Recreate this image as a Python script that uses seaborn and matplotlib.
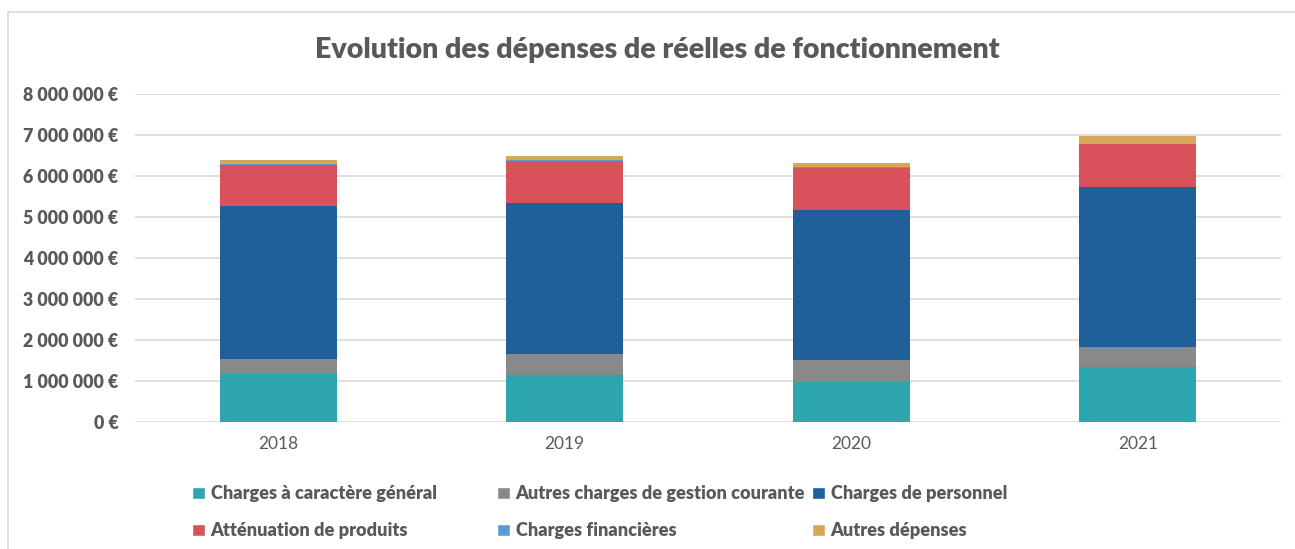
import numpy as np
import pandas as pd
import seaborn as sns
import matplotlib.pyplot as plt
import matplotlib.ticker as ticker
from matplotlib.patches import Patch, Rectangle

years = ["2018", "2019", "2020", "2021"]
series = [
    "Charges à caractère général",
    "Autres charges de gestion courante",
    "Charges de personnel",
    "Atténuation de produits",
    "Charges financières",
    "Autres dépenses",
]
charges_generales = [1170000, 1150000, 980000, 1330000]
autres_charges = [370000, 510000, 530000, 500000]
charges_personnel = [3740000, 3690000, 3670000, 3890000]
attenuation = [990000, 1020000, 1020000, 1050000]
charges_financieres = [20000, 20000, 20000, 10000]
autres_depenses = [90000, 110000, 90000, 200000]
colors = ["#2CA5AE", "#898989", "#1F5F9A", "#D9525B", "#5B9BD5", "#D6A659"]


def main():
    values = [charges_generales, autres_charges, charges_personnel,
              attenuation, charges_financieres, autres_depenses]
    cum = np.cumsum(np.array(values), axis=0)
    df = pd.DataFrame({"year": years})
    for name, c in zip(series, cum):
        df[name] = c

    sns.set_theme(style="white")
    plt.rcParams["font.family"] = ["Lato", "DejaVu Sans"]
    grey = "#595959"

    fig = plt.figure(figsize=(12.95, 5.49), dpi=100)
    ax = fig.add_axes([135 / 1295, 127 / 549, 1146 / 1295, 328 / 549])

    # stacked bars: draw cumulative totals from top layer down
    for name, col in reversed(list(zip(series, colors))):
        sns.barplot(data=df, x="year", y=name, color=col, width=0.41,
                    saturation=1, linewidth=0, ax=ax, zorder=3)

    ax.set_ylim(0, 8000000)
    ax.yaxis.set_major_locator(ticker.MultipleLocator(1000000))
    ax.yaxis.set_major_formatter(ticker.FuncFormatter(
        lambda v, p: f"{int(v):,} €".replace(",", " ")))
    ax.grid(axis="y", color="#D9D9D9", linewidth=1.2, zorder=0)
    for s in ax.spines.values():
        s.set_visible(False)
    ax.tick_params(axis="y", length=0, pad=12, labelsize=12.8, labelcolor=grey)
    ax.tick_params(axis="x", length=0, pad=10, labelsize=12.5,
                   labelcolor=grey)
    for lab in ax.get_yticklabels():
        lab.set_fontweight("heavy")
    ax.set_xlabel("")
    ax.set_ylabel("")

    fig.text(657 / 1295, 1 - 50 / 549,
             "Evolution des dépenses de réelles de fonctionnement",
             ha="center", va="center", fontsize=20.5, fontweight="heavy",
             color=grey)

    handles = [Patch(facecolor=c, label=n) for n, c in zip(series, colors)]
    # Excel lays the legend out in fixed-width columns
    col_x = [176, 481, 796]
    for k in range(3):
        idx = [k, k + 3]
        leg = fig.legend([handles[i] for i in idx], [series[i] for i in idx],
                         loc="upper left",
                         bbox_to_anchor=(col_x[k] / 1295, 1 - 469 / 549),
                         frameon=False, handlelength=0.7, handleheight=0.7,
                         handletextpad=0.3, labelspacing=1.1,
                         prop={"weight": "heavy", "size": 13.1})
        for t in leg.get_texts():
            t.set_color(grey)

    fig.add_artist(Rectangle((8 / 1295, -0.1), 1.2, 1 - 12 / 549 + 0.1,
                             transform=fig.transFigure, fill=False,
                             edgecolor="#D9D9D9", linewidth=1.2))

    fig.savefig("out.png", dpi=100)


if __name__ == "__main__":
    main()
